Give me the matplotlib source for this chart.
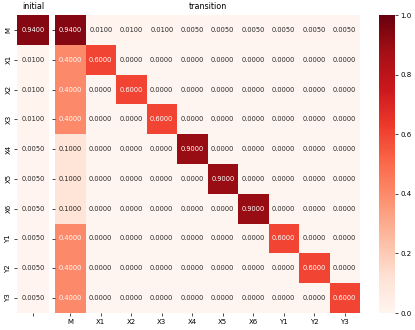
import numpy as np
import matplotlib
matplotlib.use('Agg')
import matplotlib.pyplot as plt
import seaborn as sns

states = ['M', 'X1', 'X2', 'X3', 'X4', 'X5', 'X6', 'Y1', 'Y2', 'Y3']
initial = [0.94, 0.01, 0.01, 0.01, 0.005, 0.005, 0.005, 0.005, 0.005, 0.005]
row_M = [0.94, 0.01, 0.01, 0.01, 0.005, 0.005, 0.005, 0.005, 0.005, 0.005]
first_col = [0.4, 0.4, 0.4, 0.1, 0.1, 0.1, 0.4, 0.4, 0.4]
diag = [0.6, 0.6, 0.6, 0.9, 0.9, 0.9, 0.6, 0.6, 0.6]

trans = np.zeros((10, 10))
trans[0] = row_M
for i in range(9):
    trans[i + 1, 0] = first_col[i]
    trans[i + 1, i + 1] = diag[i]

fig = plt.figure(figsize=(4.15, 3.3), dpi=100)
ax1 = fig.add_axes([17/415, 17/330, 32/415, 298/330])
ax2 = fig.add_axes([55/415, 17/330, 305/415, 298/330])
cax = fig.add_axes([379/415, 17/330, 16/415, 298/330])

kw = dict(cmap='Reds', vmin=0, vmax=1, annot=True, fmt='.4f',
          annot_kws={'fontsize': 4.8})
sns.heatmap(np.array(initial).reshape(-1, 1), ax=ax1, cbar=False,
            xticklabels=[''], yticklabels=states, **kw)
sns.heatmap(trans, ax=ax2, cbar_ax=cax, xticklabels=states,
            yticklabels=[''] * 10, **kw)

ax1.set_title('initial', fontsize=5.8, pad=4)
ax2.set_title('transition', fontsize=5.8, pad=4)
for ax in (ax1, ax2):
    ax.tick_params(labelsize=5, length=2, width=0.5, pad=2)
ax1.set_yticklabels(states, rotation=90, va='center')
ax2.set_xticklabels(states, rotation=0)
cax.tick_params(labelsize=5, length=2, width=0.5, pad=2)

fig.savefig('out.png', dpi=100)
